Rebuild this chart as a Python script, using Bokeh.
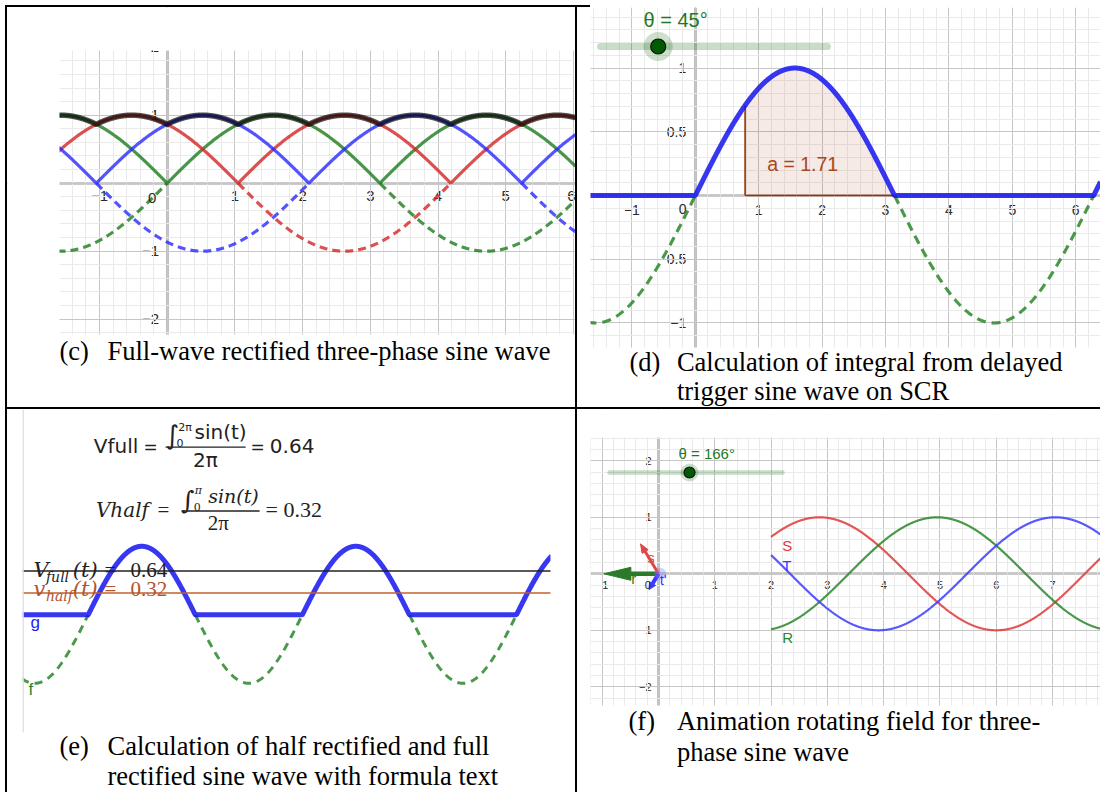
import numpy as np
from bokeh.plotting import figure
from bokeh.models import Range1d, FixedTicker, Label, Div, CustomJSTickFormatter, Span, BoxAnnotation
from bokeh.layouts import column, row
from bokeh.embed import file_html
from bokeh.resources import INLINE

# ======================= DATA =======================
# (c) full-wave rectified three-phase sine wave (phase of each source wave, degrees)
c_phase_deg = [0, 120, -120]           # green, red, blue
c_amplitude = [1.0, 1.0, 1.0]
c_colors = ["#1c7a1c", "#d42424", "#2828ff"]
c_xticks = [-1, 1, 2, 3, 4, 5, 6]
c_yticks = [-2, -1, 1, 2]

# (d) delayed trigger on SCR
d_trigger_deg = 45
d_area_text = "a = 1.71"
d_theta_text = "θ = 45°"
d_xticks = [-1, 1, 2, 3, 4, 5, 6]
d_yticks = [-1, -0.5, 0.5, 1, 1.5]

# (e) half / full rectified averages
e_vfull = 0.64
e_vhalf = 0.32

# (f) rotating field: x of the maximum of each phase, start of plotted curves
f_names = ["S", "R", "T"]
f_peak_x = [2.86, 4.95, 7.05]
f_colors = ["#e03a3a", "#2a862a", "#3c3cff"]
f_start = 2.0
f_theta_text = "θ = 166°"
f_vec_names = ["r", "s", "t'"]
f_vec_x = [-0.97, -0.32, -0.17]
f_vec_y = [0.0, 0.53, -0.28]
f_xticks = [-1, 1, 2, 3, 4, 5, 6, 7]
f_yticks = [-2, -1, 1, 2]

captions = {
    "c": ["Full-wave rectified three-phase sine wave"],
    "d": ["Calculation of integral from delayed", "trigger sine wave on SCR"],
    "e": ["Calculation of half rectified and full", "rectified sine wave with formula text"],
    "f": ["Animation rotating field for three-", "phase sine wave"],
}

# ======================= STYLE HELPERS =======================
AX = "#2c2c2c"
SANS = "Liberation Sans"
SERIF = "Liberation Serif"
MATH = "DejaVu Serif"
FMT = CustomJSTickFormatter(code="return tick < 0 ? '\\u2212' + String(-tick) : String(tick);")
PPU = {}      # pixels per y-unit of each figure
BASE_K = 0.34  # baseline correction (fraction of font size)


def make_fig(xr, yr, W, H, axes=True):
    p = figure(width=W, height=H, frame_width=W, frame_height=H,
               x_range=Range1d(*xr), y_range=Range1d(*yr),
               min_border_left=0, min_border_right=0, min_border_top=0, min_border_bottom=0,
               output_backend="svg", toolbar_location=None,
               x_axis_type="linear" if axes else None, y_axis_type="linear" if axes else None)
    p.outline_line_color = None
    p.border_fill_color = "white"
    p.background_fill_color = "white"
    PPU[id(p)] = H / (yr[1] - yr[0])
    return p


def geo_style(p, xr, yr, xstep, ystep, nminor, xt, yt, fsize, sx, sy):
    def grid_ticks(r, step):
        lo = np.ceil(r[0] / step) * step
        major = np.arange(lo, r[1] + 1e-9, step)
        ms = step / nminor
        lo2 = np.ceil(r[0] / ms) * ms
        minor = np.arange(lo2, r[1] + 1e-9, ms)
        return [float(round(v, 6)) for v in major], [float(round(v, 6)) for v in minor]
    gx, gxm = grid_ticks(xr, xstep)
    gy, gym = grid_ticks(yr, ystep)
    p.xgrid.ticker = FixedTicker(ticks=gx, minor_ticks=gxm)
    p.ygrid.ticker = FixedTicker(ticks=gy, minor_ticks=gym)
    for g in (p.xgrid, p.ygrid):
        g.grid_line_color = "#c6c6c6"
        g.grid_line_width = 1
        g.minor_grid_line_color = "#eaeaea"
        g.minor_grid_line_width = 1
    for ax, ticks, so in ((p.xaxis, xt, sx), (p.yaxis, yt, sy)):
        ax.fixed_location = 0
        ax.ticker = FixedTicker(ticks=ticks)
        ax.formatter = FMT
        ax.axis_line_color = AX
        ax.axis_line_width = 1.6
        ax.major_tick_line_color = None
        ax.minor_tick_line_color = None
        ax.major_tick_out = 0
        ax.major_tick_in = 0
        ax.major_label_text_font = SANS
        ax.major_label_text_font_size = fsize
        ax.major_label_text_color = "#2a2a2a"
        ax.major_label_standoff = so
        ax.level = "underlay"


def mask(p, xr, yr, left=None, right=None, bottom=None, top=None):
    """white cover outside the GeoGebra view (the rest of the table cell)"""
    big = 1000.0
    box = dict(fill_color="white", fill_alpha=1.0, line_color=None, line_alpha=0)
    if left is not None:
        p.add_layout(BoxAnnotation(left=xr[0] - big, right=left, bottom=yr[0] - big, top=yr[1] + big, **box))
    if right is not None:
        p.add_layout(BoxAnnotation(left=right, right=xr[1] + big, bottom=yr[0] - big, top=yr[1] + big, **box))
    if bottom is not None:
        p.add_layout(BoxAnnotation(left=xr[0] - big, right=xr[1] + big, bottom=yr[0] - big, top=bottom, **box))
    if top is not None:
        p.add_layout(BoxAnnotation(left=xr[0] - big, right=xr[1] + big, bottom=top, top=yr[1] + big, **box))


def add_text(p, x, y, text, size, color="#222222", font=SANS, style="normal",
             align="left", baseline="alphabetic", units="data", alpha=1.0):
    px = float(size.replace("px", ""))
    if baseline == "alphabetic":
        shift = BASE_K * px
        y = y + (shift if units == "screen" else shift / PPU[id(p)])
    p.add_layout(Label(x=x, y=y, x_units=units, y_units=units, text=text, text_font=font,
                       text_font_size=size, text_color=color, text_font_style=style,
                       text_align=align, text_baseline=baseline, text_alpha=alpha))


def caption(p, tag, lines, sx_tag, sx_text, sy_first, dy=30):
    add_text(p, sx_tag, sy_first, tag, "26.5px", "black", SERIF, units="screen")
    for i, ln in enumerate(lines):
        add_text(p, sx_text, sy_first - i * dy, ln, "26.5px", "black", SERIF, units="screen")


def slider(p, x0, x1, y, knob_x, w, halo, knob):
    p.line([x0, x1], [y, y], line_color="#006400", line_alpha=0.22, line_width=w, line_cap="round")
    p.scatter([knob_x], [y], size=halo, fill_color="#006400", fill_alpha=0.2, line_color=None)
    p.scatter([knob_x], [y], size=knob, fill_color="#005a00", line_color="#111111", line_width=1.2)


# ======================= (c) =======================
c_xr, c_yr = (-2.359, 6.031), (-3.299, 2.584)
pc = make_fig(c_xr, c_yr, 568, 400)
geo_style(pc, c_xr, c_yr, 1, 1, 5, c_xticks, c_yticks, "15px", 8, 8)
xc = np.linspace(-1.62, c_xr[1], 1600)
waves = [a * np.sin(xc + np.deg2rad(ph)) for ph, a in zip(c_phase_deg, c_amplitude)]
for w, col in zip(waves, c_colors):
    pc.line(xc, np.where(w <= 0, w, np.nan), line_color=col, line_width=3.2, line_alpha=0.8, line_dash="8 5")
for w, col in zip(waves, c_colors):
    pc.line(xc, np.abs(w), line_color=col, line_width=3.2, line_alpha=0.8)
env = np.max(np.abs(np.array(waves)), axis=0)
pc.line(xc, env, line_color="black", line_width=5.5, line_alpha=0.68)
add_text(pc, -0.16, -0.15, "0", "15px", "#2a2a2a", align="right", baseline="top")
mask(pc, c_xr, c_yr, left=-1.591, bottom=-2.225, top=1.951)
caption(pc, "(c)", captions["c"], 52, 100, 47)

# ======================= (d) =======================
d_xr, d_yr = (-1.858, 6.391), (-1.663, 1.475)
pd_ = make_fig(d_xr, d_yr, 523, 400)
geo_style(pd_, d_xr, d_yr, 1, 0.5, 5, d_xticks, d_yticks, "14px", 9, 9)
xd = np.linspace(-1.70, d_xr[1], 1600)
sd = np.sin(xd)
trig = np.deg2rad(d_trigger_deg)
xa = np.linspace(trig, np.pi, 300)
pd_.varea(x=xa, y1=np.zeros_like(xa), y2=np.sin(xa), fill_color="#993300", fill_alpha=0.1)
pd_.segment(x0=[trig, trig], y0=[0, 0], x1=[trig, np.pi], y1=[np.sin(trig), 0],
            line_color="#993300", line_width=1.6)
pd_.line(xd, np.where(sd <= 0, sd, np.nan), line_color="#2a862a", line_width=3.2,
         line_alpha=0.85, line_dash="9 6")
pd_.line(xd, np.maximum(sd, 0), line_color="#1414f0", line_width=5, line_alpha=0.85)
add_text(pd_, 1.133, 0.198, d_area_text, "19.5px", "#a8461c")
slider(pd_, -1.495, 2.085, 1.169, -0.585, 7, 29, 15)
add_text(pd_, -0.817, 1.32, d_theta_text, "20px", "#1f7a1f")
add_text(pd_, -0.139, -0.07, "0", "14px", "#2a2a2a", align="right", baseline="top")
mask(pd_, d_xr, d_yr, left=-1.653, bottom=-1.192)
caption(pd_, "(d)", captions["d"], 52, 99.4, 36, dy=29)

# ======================= (e) =======================
e_xr, e_yr = (-2.368, 14.299), (-2.594, 2.997)
pe = make_fig(e_xr, e_yr, 568, 383, axes=False)
pe.add_layout(Span(location=-1.91, dimension="height", line_color="#dcdcdc", line_width=1.5))
xe = np.linspace(-1.95, 13.6, 2000)
se = np.sin(xe)
pe.line(xe, np.where(se <= 0, se, np.nan), line_color="#2a862a", line_width=3, line_alpha=0.85, line_dash="8 6")
pe.line(xe, np.maximum(se, 0), line_color="#1414f0", line_width=5, line_alpha=0.85)
pe.line([-1.95, 13.6], [e_vfull, e_vfull], line_color="#222222", line_width=1.5)
pe.line([-1.95, 13.6], [e_vhalf, e_vhalf], line_color="#c0622f", line_width=1.5)
# formula 1 (sans)
add_text(pe, 0.164, 2.36, "Vfull", "20px", "#222222", "DejaVu Sans")
add_text(pe, 1.62, 2.36, "=", "17px", "#222222", "DejaVu Sans")
add_text(pe, 2.27, 2.49, "∫", "26px", "#222222", "DejaVu Sans")
add_text(pe, 2.64, 2.676, "2π", "11px", "#222222", "DejaVu Sans")
add_text(pe, 2.59, 2.457, "0", "11px", "#222222", "DejaVu Sans")
add_text(pe, 3.12, 2.574, "sin(t)", "20px", "#222222", "DejaVu Sans")
pe.line([2.27, 4.62], [2.447, 2.447], line_color="#222222", line_width=1.3)
add_text(pe, 3.44, 2.158, "2π", "20px", "#222222", "DejaVu Sans", align="center")
add_text(pe, 4.76, 2.36, "=", "17px", "#222222", "DejaVu Sans")
add_text(pe, 5.33, 2.36, f"{e_vfull:.2f}", "20px", "#222222", "DejaVu Sans")
# formula 2 (serif, math italic)
add_text(pe, 0.226, 1.425, "Vhalf", "20px", "#222222", MATH, "italic")
add_text(pe, 2.03, 1.425, "=", "21px", "#222222", SERIF)
add_text(pe, 2.74, 1.55, "∫", "25px", "#222222", MATH)
add_text(pe, 3.13, 1.756, "π", "11px", "#222222", MATH, "italic")
add_text(pe, 3.10, 1.523, "0", "11px", "#222222", MATH)
add_text(pe, 3.52, 1.644, "sin(t)", "19px", "#222222", MATH, "italic")
pe.line([2.74, 5.03], [1.515, 1.515], line_color="#222222", line_width=1.3)
add_text(pe, 3.82, 1.231, "2π", "21px", "#222222", SERIF, align="center")
add_text(pe, 5.20, 1.425, "=", "22px", "#222222", SERIF)
add_text(pe, 5.73, 1.425, f"{e_vhalf:.2f}", "22px", "#222222", SERIF)
# line captions
for (sym, sub, val, col, yb, ys) in (("V", "full", e_vfull, "#222222", 0.545, 0.486),
                                      ("v", "half", e_vhalf, "#b0552e", 0.267, 0.209)):
    add_text(pe, -1.605, yb, sym, "21px", col, MATH, "italic")
    add_text(pe, -1.24, ys, sub, "14px", col, MATH, "italic")
    add_text(pe, -0.45, yb, "(t)", "21px", col, MATH, "italic")
    add_text(pe, 0.478, yb, "=", "21px", col, SERIF)
    add_text(pe, 1.24, yb, f"{val:.2f}", "21px", col, SERIF)
add_text(pe, -1.69, -0.20, "g", "17px", "#2020ff", SANS)
add_text(pe, -1.75, -1.18, "f", "17px", "#2a862a", SANS)
mask(pe, e_xr, e_yr, left=-1.928, right=13.565, bottom=-1.718)
caption(pe, "(e)", captions["e"], 52, 100, 37)

# ======================= (f) =======================
f_xr, f_yr = (-1.439, 7.851), (-3.871, 2.908)
pf = make_fig(f_xr, f_yr, 523, 383)
geo_style(pf, f_xr, f_yr, 1, 1, 5, f_xticks, f_yticks, "11px", 7, 7)
xf = np.linspace(f_start, f_xr[1], 1000)
for px_, col in zip(f_peak_x, f_colors):
    pf.line(xf, np.cos(xf - px_), line_color=col, line_width=2.2, line_alpha=0.85)
add_text(pf, 2.20, 0.41, "S", "15px", "#e03a3a")
add_text(pf, 2.20, 0.06, "T", "15px", "#3c3cff")
add_text(pf, 2.20, -1.22, "R", "15px", "#2a862a")
# rotating vectors
ppu = 56.4
vec_cols = ["#2a7a2a", "#e04848", "#3a3aff"]
vec_shaft = [4.5, 3, 4]
vec_head = [(27, 13), (9, 7), (7, 7)]
for vx, vy, col, sw, (hl, hw) in zip(f_vec_x, f_vec_y, vec_cols, vec_shaft, vec_head):
    L = np.hypot(vx, vy)
    ux, uy = vx / L, vy / L
    bx, by = vx - ux * hl / ppu, vy - uy * hl / ppu
    nx, ny = -uy * hw / ppu / 2, ux * hw / ppu / 2
    pf.line([0, bx], [0, by], line_color=col, line_width=sw)
    pf.patch([vx, bx + nx, bx - nx], [vy, by + ny, by - ny], fill_color=col, line_color=col)
pf.scatter([0.03], [0.0], size=12, fill_color="#7a7aff", fill_alpha=0.35, line_color=None)
add_text(pf, -0.485, -0.17, "r", "15px", "#2a7a2a")
add_text(pf, -0.2, 0.2, "s", "15px", "#e04848")
add_text(pf, 0.02, -0.2, "t'", "15px", "#3a3aff")
slider(pf, -0.870, 2.202, 1.793, 0.551, 4.5, 18, 11)
add_text(pf, 0.355, 2.046, f_theta_text, "15px", "#1f7a1f")
add_text(pf, -0.137, -0.131, "0", "11px", "#2a2a2a", align="right", baseline="top")
mask(pf, f_xr, f_yr, left=-1.208, bottom=-2.331, top=2.412)
caption(pf, "(f)", captions["f"], 51, 99.4, 62, dy=31)

# ======================= TABLE LAYOUT =======================
def bar(w, h, color="black"):
    return Div(text="", width=w, height=h, margin=0, styles={"background-color": color})

layout = column(
    bar(1100, 5, "white"),
    row(bar(5, 2, "white"), bar(585, 2), bar(510, 2, "white"), spacing=0),
    row(bar(5, 400, "white"), bar(2, 400), pc, bar(2, 400), pd_, spacing=0),
    row(bar(5, 2, "white"), bar(1095, 2), spacing=0),
    row(bar(5, 383, "white"), bar(2, 383), pe, bar(2, 383), pf, spacing=0),
    spacing=0,
)

open("out.html", "w").write(file_html(layout, INLINE))
